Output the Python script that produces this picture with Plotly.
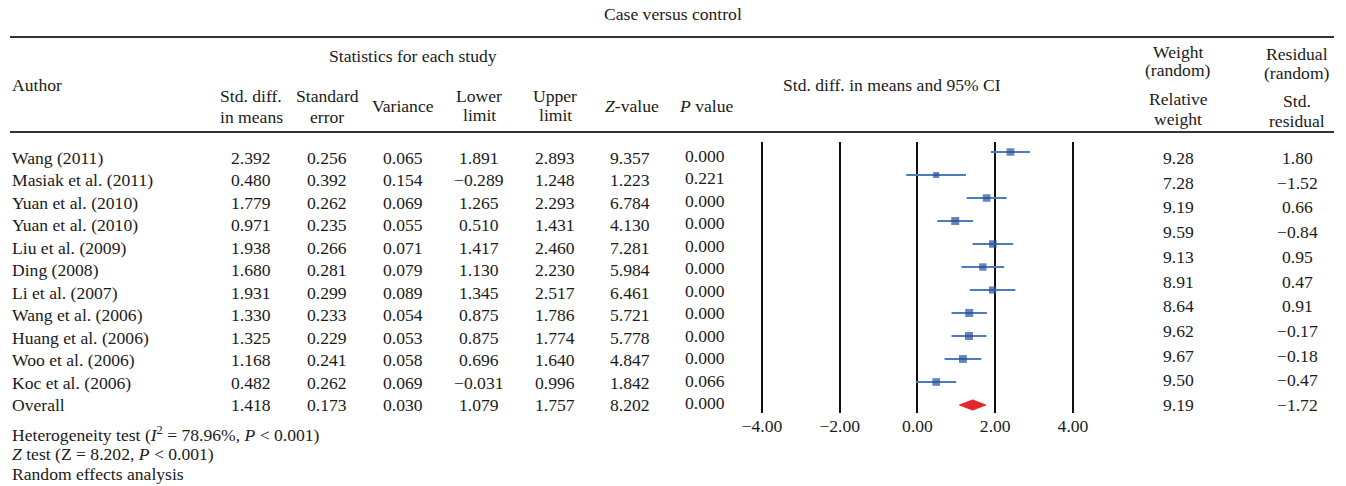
import plotly.graph_objects as go

# ---- data -------------------------------------------------------------
authors = ["Wang (2011)", "Masiak et al. (2011)", "Yuan et al. (2010)", "Yuan et al. (2010)",
           "Liu et al. (2009)", "Ding (2008)", "Li et al. (2007)", "Wang et al. (2006)",
           "Huang et al. (2006)", "Woo et al. (2006)", "Koc et al. (2006)", "Overall"]
std_diff = [2.392, 0.480, 1.779, 0.971, 1.938, 1.680, 1.931, 1.330, 1.325, 1.168, 0.482, 1.418]
std_err = [0.256, 0.392, 0.262, 0.235, 0.266, 0.281, 0.299, 0.233, 0.229, 0.241, 0.262, 0.173]
variance = [0.065, 0.154, 0.069, 0.055, 0.071, 0.079, 0.089, 0.054, 0.053, 0.058, 0.069, 0.030]
lower = [1.891, -0.289, 1.265, 0.510, 1.417, 1.130, 1.345, 0.875, 0.875, 0.696, -0.031, 1.079]
upper = [2.893, 1.248, 2.293, 1.431, 2.460, 2.230, 2.517, 1.786, 1.774, 1.640, 0.996, 1.757]
z_value = [9.357, 1.223, 6.784, 4.130, 7.281, 5.984, 6.461, 5.721, 5.778, 4.847, 1.842, 8.202]
p_value = [0.000, 0.221, 0.000, 0.000, 0.000, 0.000, 0.000, 0.000, 0.000, 0.000, 0.066, 0.000]
rel_weight = [9.28, 7.28, 9.19, 9.59, 9.13, 8.91, 8.64, 9.62, 9.67, 9.50, 9.19]
std_resid = [1.80, -1.52, 0.66, -0.84, 0.95, 0.47, 0.91, -0.17, -0.18, -0.47, -1.72]
axis_ticks = [-4, -2, 0, 2, 4]
axis_ticktext = ["−4.00", "−2.00", "0.00", "2.00", "4.00"]

W, H = 1346, 486
FONT = "Liberation Serif"
FS = 17.6
TXT = "#1a1a1a"


def X(px):
    return px / W


def Y(py):
    return 1 - py / H


def fmt(v, d):
    return f"{v:.{d}f}".replace("-", "−")


fig = go.Figure()

# ---- forest plot (study rows 0..10, pooled row 11) ---------------------
n_st = len(rel_weight)
rows = list(range(n_st))
pool = n_st

fig.add_trace(go.Scatter(
    x=std_diff[:n_st], y=rows, mode="markers",
    marker=dict(symbol="square", color="#22509c",
                size=[8.0 * w / max(rel_weight) for w in rel_weight], line=dict(width=0)),
    error_x=dict(type="data", symmetric=False,
                 array=[u - m for u, m in zip(upper[:n_st], std_diff[:n_st])],
                 arrayminus=[m - l for m, l in zip(std_diff[:n_st], lower[:n_st])],
                 color="#4f7bbd", thickness=2, width=0),
    xaxis="x2", yaxis="y2", hoverinfo="skip", showlegend=False))

# pooled estimate diamond
half_h = 0.22
fig.add_trace(go.Scatter(
    x=[lower[pool], std_diff[pool], upper[pool], std_diff[pool], lower[pool]],
    y=[pool, pool - half_h, pool, pool + half_h, pool],
    mode="lines", fill="toself", fillcolor="#e3262b", line=dict(color="#e3262b", width=1),
    xaxis="x2", yaxis="y2", hoverinfo="skip", showlegend=False))

# forest axes: -4 .. 4 between x=762 and x=1073, rows from y=152 step 23
ppu = (1073 - 762) / 8.0
cx = (1073 + 762) / 2.0
dom_l, dom_r = cx - 5 * ppu, cx + 5 * ppu
top_px, bot_px, row0, step = 142, 413, 152, 23.0

fig.update_layout(
    xaxis2=dict(domain=[X(dom_l), X(dom_r)], range=[-5, 5], anchor="y2",
                tickvals=axis_ticks, ticktext=axis_ticktext, showgrid=True,
                gridcolor="#111111", gridwidth=1.6, zeroline=False, showline=False,
                ticks="", tickfont=dict(family=FONT, size=FS, color=TXT)),
    yaxis2=dict(domain=[Y(bot_px), Y(top_px)], anchor="x2",
                range=[(bot_px - row0) / step, (top_px - row0) / step],
                showgrid=False, zeroline=False, showticklabels=False, showline=False),
    xaxis=dict(visible=False), yaxis=dict(visible=False),
)

# ---- text -------------------------------------------------------------
ann = []


def txt(x, y, s, anchor="center", size=FS):
    ann.append(dict(x=X(x), y=Y(y), xref="paper", yref="paper", text=s, showarrow=False,
                    xanchor=anchor, yanchor="middle",
                    font=dict(family=FONT, size=size, color=TXT)))


# title and header
txt(673, 14, "Case versus control")
txt(413, 56, "Statistics for each study")
txt(10, 85, "Author", "left")
txt(251, 96, "Std. diff.")
txt(251, 117, "in means")
txt(327, 96, "Standard")
txt(327, 117, "error")
txt(403, 106, "Variance")
txt(479, 96, "Lower")
txt(479, 115, "limit")
txt(555, 96, "Upper")
txt(555, 115, "limit")
txt(632, 106, "<i>Z</i>-value")
txt(706, 106, "<i>P</i> value")
txt(892, 85, "Std. diff. in means and 95% CI")
txt(1178, 52, "Weight")
txt(1178, 70, "(random)")
txt(1178, 99, "Relative")
txt(1178, 119, "weight")
txt(1297, 54, "Residual")
txt(1297, 73, "(random)")
txt(1297, 101, "Std.")
txt(1297, 121, "residual")

# table body
t0, tstep = 158, (405 - 158) / 11.0
for i, name in enumerate(authors):
    y = t0 + i * tstep
    txt(10, y, name, "left")
    txt(251, y, fmt(std_diff[i], 3))
    txt(327, y, fmt(std_err[i], 3))
    txt(403, y, fmt(variance[i], 3))
    txt(479, y, fmt(lower[i], 3))
    txt(555, y, fmt(upper[i], 3))
    txt(630, y, fmt(z_value[i], 3))
    txt(705, y - 2, fmt(p_value[i], 3))

# weight / residual columns run on their own spacing
w0, wstep = 158, (405 - 158) / (len(rel_weight) - 1)
for i, (w, r) in enumerate(zip(rel_weight, std_resid)):
    y = w0 + i * wstep
    txt(1178, y, fmt(w, 2))
    txt(1297, y, fmt(r, 2))

# footer
txt(10, 434, "Heterogeneity test (<i>I</i><sup>2</sup> = 78.96%, <i>P</i> &lt; 0.001)", "left")
txt(10, 454, "<i>Z</i> test (Z = 8.202, <i>P</i> &lt; 0.001)", "left")
txt(10, 474, "Random effects analysis", "left")

# horizontal rules
shapes = [
    dict(type="line", xref="paper", yref="paper", x0=X(10), x1=X(1334), y0=Y(37), y1=Y(37),
         line=dict(color="#333333", width=2)),
    dict(type="line", xref="paper", yref="paper", x0=X(10), x1=X(1334), y0=Y(132), y1=Y(132),
         line=dict(color="#333333", width=2)),
]

fig.update_layout(
    width=W, height=H, margin=dict(l=0, r=0, t=0, b=0),
    paper_bgcolor="white", plot_bgcolor="white",
    annotations=ann, shapes=shapes, showlegend=False,
)

fig.write_html("out.html")
